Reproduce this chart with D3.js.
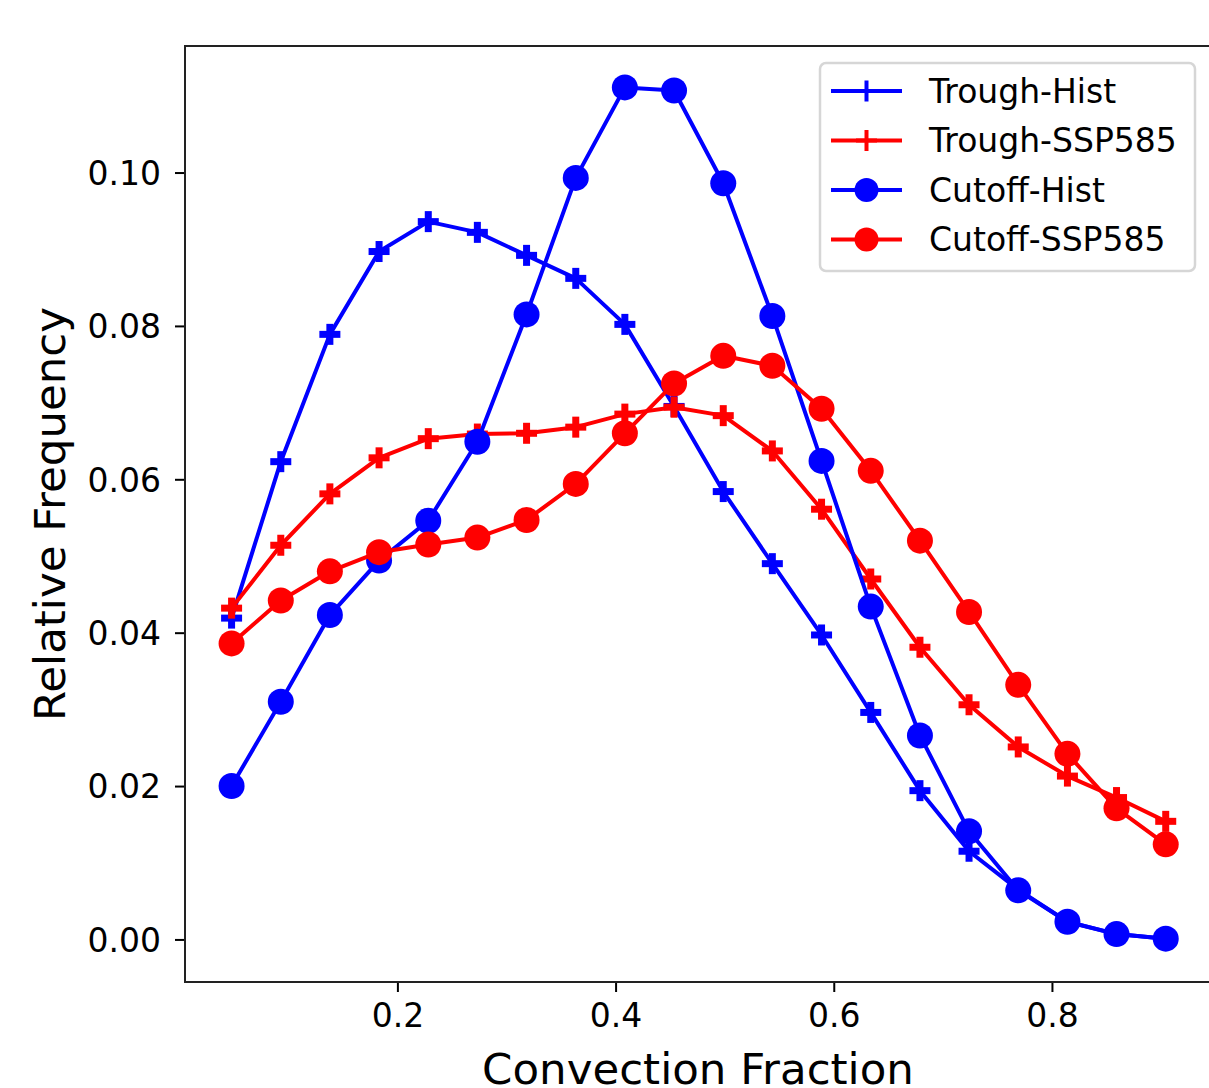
<!DOCTYPE html>
<html>
<head>
<meta charset="utf-8">
<script src="https://cdn.jsdelivr.net/npm/d3@7"></script>
<style>
  body { margin: 0; background: #fff; }
  svg { display: block; font-family: 'DejaVu Sans', sans-serif; }
</style>
</head>
<body>
<div id="chart"></div>
<script>
const convectionFraction = [0.0480, 0.0931, 0.1381, 0.1832, 0.2283, 0.2733, 0.3184, 0.3635, 0.4085, 0.4536,
  0.4987, 0.5437, 0.5888, 0.6339, 0.6790, 0.7240, 0.7691, 0.8142, 0.8592, 0.9043];

const troughHist = [0.0419, 0.0623, 0.0789, 0.0897, 0.0936, 0.0922, 0.0892, 0.0862, 0.0802, 0.0695,
  0.0584, 0.0490, 0.0397, 0.0296, 0.0194, 0.0115, 0.0065, 0.0023, 0.0007, 0.0001];
const troughSSP585 = [0.0432, 0.0514, 0.0581, 0.0628, 0.0653, 0.0659, 0.0660, 0.0668, 0.0685, 0.0694,
  0.0683, 0.0637, 0.0561, 0.0470, 0.0381, 0.0306, 0.0251, 0.0213, 0.0185, 0.0154];
const cutoffHist = [0.0200, 0.0310, 0.0423, 0.0494, 0.0546, 0.0649, 0.0815, 0.0993, 0.1111, 0.1107,
  0.0986, 0.0813, 0.0624, 0.0434, 0.0266, 0.0141, 0.0064, 0.0023, 0.0007, 0.0001];
const cutoffSSP585 = [0.0386, 0.0442, 0.0480, 0.0505, 0.0515, 0.0524, 0.0547, 0.0594, 0.0660, 0.0725,
  0.0761, 0.0748, 0.0692, 0.0611, 0.0520, 0.0427, 0.0332, 0.0242, 0.0171, 0.0124];

const xTicks = [0.2, 0.4, 0.6, 0.8];
const yTicks = [0.00, 0.02, 0.04, 0.06, 0.08, 0.10];

const seriesNames = ['Trough-Hist', 'Trough-SSP585', 'Cutoff-Hist', 'Cutoff-SSP585'];
const seriesColors = ['#0000ff', '#ff0000', '#0000ff', '#ff0000'];
const seriesMarkers = ['plus', 'plus', 'circle', 'circle'];
const seriesValues = [troughHist, troughSSP585, cutoffHist, cutoffSSP585];

const width = 1209;
const height = 1088;
const plot = { left: 185, right: 1211, top: 46, bottom: 982 };

const svg = d3.select('#chart').append('svg')
  .attr('width', width)
  .attr('height', height);

const xScale = d3.scaleLinear()
  .domain([0.0053, 0.9458])
  .range([plot.left, plot.right]);

const yScale = d3.scaleLinear()
  .domain([-0.00555, 0.1165])
  .range([plot.bottom, plot.top]);

// axes
const xAxis = svg.append('g')
  .attr('transform', `translate(0, ${plot.bottom})`)
  .call(d3.axisBottom(xScale).tickValues(xTicks).tickFormat(d3.format('.1f')).tickSize(10).tickPadding(12));

const yAxis = svg.append('g')
  .attr('transform', `translate(${plot.left}, 0)`)
  .call(d3.axisLeft(yScale).tickValues(yTicks).tickFormat(d3.format('.2f')).tickSize(10).tickPadding(14));

[xAxis, yAxis].forEach(ax => {
  ax.select('.domain').remove();
  ax.selectAll('line').attr('stroke', '#000').attr('stroke-width', 2);
  ax.selectAll('text')
    .attr('fill', '#000')
    .style('font-size', '33px')
    .style('font-family', "'DejaVu Sans', sans-serif");
});
xAxis.selectAll('text').attr('dy', '0.71em');
yAxis.selectAll('text').attr('dy', '0.36em');

// frame
svg.append('rect')
  .attr('x', plot.left)
  .attr('y', plot.top)
  .attr('width', plot.right - plot.left)
  .attr('height', plot.bottom - plot.top)
  .attr('fill', 'none')
  .attr('stroke', '#222')
  .attr('stroke-width', 2);

// lines and markers
const line = d3.line()
  .x((d, i) => xScale(convectionFraction[i]))
  .y(d => yScale(d));

function drawPlus(g, cx, cy, size, thick, color) {
  g.append('rect')
    .attr('x', cx - size / 2).attr('y', cy - thick / 2)
    .attr('width', size).attr('height', thick)
    .attr('fill', color);
  g.append('rect')
    .attr('x', cx - thick / 2).attr('y', cy - size / 2)
    .attr('width', thick).attr('height', size)
    .attr('fill', color);
}

seriesValues.forEach((values, s) => {
  const g = svg.append('g').attr('class', 'series');
  g.append('path')
    .datum(values)
    .attr('d', line)
    .attr('fill', 'none')
    .attr('stroke', seriesColors[s])
    .attr('stroke-width', 4)
    .attr('stroke-linejoin', 'round');

  values.forEach((v, i) => {
    const cx = xScale(convectionFraction[i]);
    const cy = yScale(v);
    if (seriesMarkers[s] === 'circle') {
      g.append('circle')
        .attr('cx', cx).attr('cy', cy).attr('r', 13)
        .attr('fill', seriesColors[s]);
    } else {
      drawPlus(g, cx, cy, 21, 7, seriesColors[s]);
    }
  });
});

// axis labels (bottom one is cut by the canvas edge, as in the reference)
svg.append('text')
  .text('Convection Fraction')
  .attr('x', (plot.left + plot.right) / 2)
  .attr('y', 1084)
  .attr('text-anchor', 'middle')
  .style('font-size', '43.5px');

svg.append('text')
  .text('Relative Frequency')
  .attr('transform', `translate(65, ${(plot.top + plot.bottom) / 2}) rotate(-90)`)
  .attr('text-anchor', 'middle')
  .style('font-size', '43.5px');

// legend
const legend = svg.append('g').attr('class', 'legend');
legend.append('rect')
  .attr('x', 820).attr('y', 63)
  .attr('width', 375).attr('height', 208)
  .attr('rx', 6)
  .attr('fill', 'rgba(255,255,255,0.8)')
  .attr('stroke', '#d6d6d6')
  .attr('stroke-width', 2.5);

seriesNames.forEach((name, s) => {
  const y = 91 + s * 49.5;
  legend.append('line')
    .attr('x1', 831).attr('x2', 902)
    .attr('y1', y).attr('y2', y)
    .attr('stroke', seriesColors[s])
    .attr('stroke-width', 4);
  if (seriesMarkers[s] === 'circle') {
    legend.append('circle')
      .attr('cx', 866.5).attr('cy', y).attr('r', 12)
      .attr('fill', seriesColors[s]);
  } else {
    drawPlus(legend, 866.5, y, 21, 4, seriesColors[s]);
  }
  legend.append('text')
    .text(name)
    .attr('x', 929)
    .attr('y', y)
    .attr('dy', '0.36em')
    .style('font-size', '33px');
});
</script>
</body>
</html>
